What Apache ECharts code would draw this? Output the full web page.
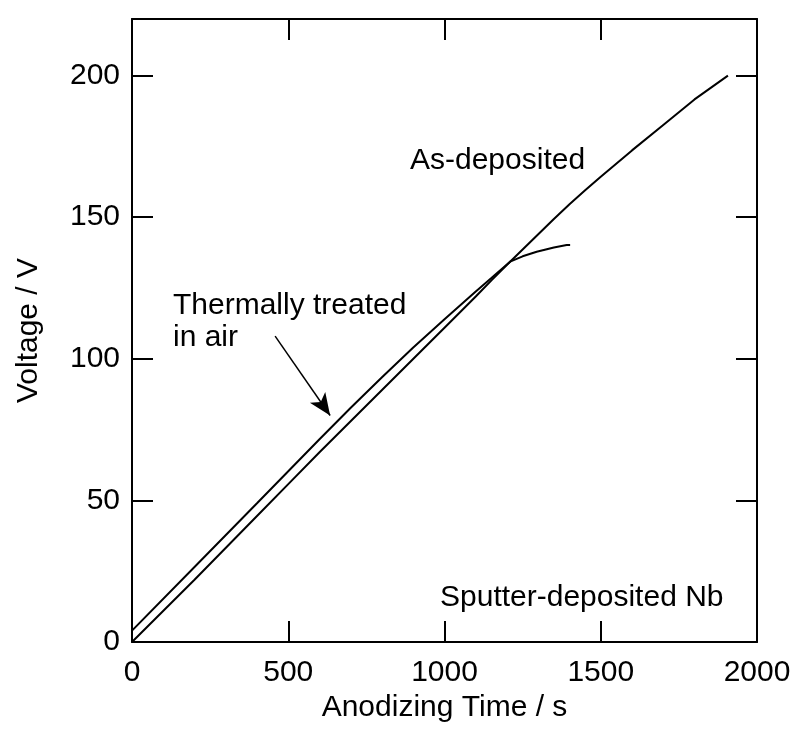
<!DOCTYPE html>
<html>
<head>
<meta charset="utf-8">
<script src="https://cdn.jsdelivr.net/npm/echarts@6/dist/echarts.min.js"></script>
<style>
  html, body { margin: 0; padding: 0; background: #fff; }
  #chart { width: 795px; height: 747px; }
</style>
</head>
<body>
<div id="chart"></div>
<script>
// Anodizing time (s) and cell voltage (V) for the two Nb films
var asDepositedTime = [0, 200, 400, 511, 600, 698, 800, 1000, 1100, 1151, 1200, 1300, 1350, 1400, 1450, 1500, 1600, 1700, 1800, 1907];
var asDepositedVolt = [0, 22, 44.5, 57, 67, 77.8, 89, 111, 122, 127.8, 133.2, 144, 149.4, 154.6, 159.5, 164.3, 173.6, 182.6, 191.6, 200];

var treatedTime = [0, 200, 400, 600, 700, 800, 900, 1000, 1100, 1150, 1210, 1250, 1295, 1350, 1391, 1402];
var treatedVolt = [4, 26.5, 49, 71.6, 82.7, 93.5, 104, 114, 123.8, 128.5, 134.3, 136.2, 137.8, 139.3, 140.2, 140.2];

var xTicks = { min: 0, max: 2000, interval: 500 };
var yTicks = { min: 0, max: 220, interval: 50 };

function pairs(xs, ys) {
  return xs.map(function (x, i) { return [x, ys[i]]; });
}

var FONT = 'Liberation Sans, Arial, sans-serif';
var FS = 30;

var chart = echarts.init(document.getElementById('chart'), null, { renderer: 'canvas' });

function axisBase(showLabel) {
  return {
    type: 'value',
    axisLine: { show: true, onZero: false, lineStyle: { color: '#000', width: 2 } },
    axisTick: { show: true, inside: true, length: 21, lineStyle: { color: '#000', width: 2 } },
    splitLine: { show: false },
    axisLabel: {
      show: showLabel, color: '#000', fontSize: FS, fontFamily: FONT,
      formatter: function (v) { return String(v); }
    }
  };
}

var xBottom = Object.assign(axisBase(true), {
  position: 'bottom', min: xTicks.min, max: xTicks.max, interval: xTicks.interval,
  name: 'Anodizing Time / s', nameLocation: 'middle', nameGap: 47,
  nameTextStyle: { color: '#000', fontSize: FS, fontFamily: FONT }
});
xBottom.axisLabel.margin = 16;
var xTop = Object.assign(axisBase(false), {
  position: 'top', min: xTicks.min, max: xTicks.max, interval: xTicks.interval
});
var yLeft = Object.assign(axisBase(true), {
  position: 'left', min: yTicks.min, max: yTicks.max, interval: yTicks.interval,
  name: 'Voltage / V', nameLocation: 'middle', nameGap: 88, nameRotate: 90,
  nameTextStyle: { color: '#000', fontSize: FS, fontFamily: FONT }
});
yLeft.axisLabel.margin = 12;
yLeft.axisLabel.showMaxLabel = false;
var yRight = Object.assign(axisBase(false), {
  position: 'right', min: yTicks.min, max: yTicks.max, interval: yTicks.interval
});

var textStyle = { fill: '#000', fontSize: FS, fontFamily: FONT };

chart.setOption({
  animation: false,
  backgroundColor: '#fff',
  grid: { left: 132, right: 38, top: 19, bottom: 105, containLabel: false },
  xAxis: [xBottom, xTop],
  yAxis: [yLeft, yRight],
  series: [
    {
      name: 'As-deposited',
      type: 'line',
      xAxisIndex: 0, yAxisIndex: 0,
      data: pairs(asDepositedTime, asDepositedVolt),
      showSymbol: false,
      lineStyle: { color: '#000', width: 2 },
      z: 3
    },
    {
      name: 'Thermally treated in air',
      type: 'line',
      xAxisIndex: 0, yAxisIndex: 0,
      data: pairs(treatedTime, treatedVolt),
      showSymbol: false,
      lineStyle: { color: '#000', width: 2 },
      z: 3,
      markLine: {
        silent: true,
        symbol: ['none', 'arrow'],
        symbolSize: [14, 22],
        label: { show: false },
        lineStyle: { color: '#000', width: 1.5, type: 'solid' },
        data: [[{ coord: [458, 108] }, { coord: [634, 80] }]]
      }
    }
  ],
  graphic: [
    { type: 'text', left: 410, top: 146, style: Object.assign({ text: 'As-deposited' }, textStyle) },
    { type: 'text', left: 173, top: 290, style: Object.assign({ text: 'Thermally treated\nin air', lineHeight: 32 }, textStyle) },
    { type: 'text', left: 440, top: 583, style: Object.assign({ text: 'Sputter-deposited Nb' }, textStyle) }
  ]
});
</script>
</body>
</html>
